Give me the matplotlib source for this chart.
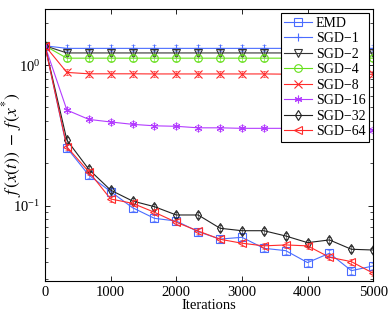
import matplotlib
matplotlib.use("Agg")
import matplotlib.pyplot as plt
from matplotlib.path import Path
import numpy as np

plt.rcParams['font.family'] = ['Liberation Serif', 'DejaVu Serif']
plt.rcParams['mathtext.fontset'] = 'stix'

iterations = [0, 333, 667, 1000, 1333, 1667, 2000, 2333, 2667, 3000, 3333, 3667, 4000, 4333, 4667, 5000]

emd = [1.371, 0.258, 0.165, 0.126, 0.0968, 0.0813, 0.0778, 0.0653, 0.0579, 0.0596, 0.0498, 0.0479, 0.0394, 0.0459, 0.0345, 0.0373]
sgd1 = [1.371, 1.315, 1.315, 1.315, 1.315, 1.315, 1.315, 1.315, 1.315, 1.315, 1.315, 1.315, 1.315, 1.315, 1.315, 1.315]
sgd2 = [1.371, 1.22, 1.22, 1.22, 1.22, 1.22, 1.22, 1.22, 1.22, 1.22, 1.22, 1.22, 1.22, 1.22, 1.22, 1.22]
sgd4 = [1.371, 1.12, 1.12, 1.12, 1.12, 1.12, 1.12, 1.12, 1.12, 1.12, 1.12, 1.12, 1.12, 1.12, 1.12, 1.12]
sgd8 = [1.371, 0.887, 0.867, 0.867, 0.867, 0.865, 0.865, 0.865, 0.865, 0.865, 0.865, 0.862, 0.862, 0.862, 0.86, 0.86]
sgd16 = [1.371, 0.479, 0.411, 0.394, 0.379, 0.370, 0.367, 0.358, 0.358, 0.355, 0.355, 0.355, 0.352, 0.350, 0.348, 0.345]
sgd32 = [1.371, 0.293, 0.1815, 0.129, 0.108, 0.0984, 0.0859, 0.0859, 0.0691, 0.0664, 0.0664, 0.0609, 0.0546, 0.0571, 0.0490, 0.0484]
sgd64 = [1.371, 0.262, 0.1745, 0.1116, 0.104, 0.0898, 0.0762, 0.0661, 0.0577, 0.0541, 0.0518, 0.0526, 0.0518, 0.0430, 0.0400, 0.0331]

labels = ['EMD', 'SGD\u22121', 'SGD\u22122', 'SGD\u22124', 'SGD\u22128', 'SGD\u221216', 'SGD\u221232', 'SGD\u221264']
series = [emd, sgd1, sgd2, sgd4, sgd8, sgd16, sgd32, sgd64]
colors = ['#4a6cff', '#4a6cff', '#333333', '#66e01a', '#ff2a2a', '#b33cff', '#222222', '#ff2a2a']
markers = ['s', '+', 'v', 'o', 'x', (6, 2, 0), 'd', '<']

# errorbar-like "I" glyph overlay style
ibar = Path([(0, -1), (0, 1), (-0.6, -1), (0.6, -1), (-0.6, 1), (0.6, 1)],
            [Path.MOVETO, Path.LINETO, Path.MOVETO, Path.LINETO, Path.MOVETO, Path.LINETO])

fig = plt.figure(figsize=(3.9, 3.15), dpi=100)
ax = fig.add_axes([0.1154, 0.107, 0.957 - 0.1154, 0.971 - 0.107])

x = np.array(iterations)
handles = []
for y, lab, c, m in zip(series, labels, colors, markers):
    h, = ax.plot(x, y, color=c, lw=0.8, marker=m, markersize=5.5,
                 markerfacecolor='none', markeredgecolor=c, markeredgewidth=0.8, label=lab)
    ax.plot(x, y, color=c, lw=0, marker=ibar, markersize=4.5, markeredgewidth=0.5,
            markerfacecolor='none', markeredgecolor=c, alpha=0.8)
    handles.append(h)

ax.set_yscale('log')
ax.set_xlim(0, 5000)
ax.set_ylim(0.029, 2.5)
ax.set_xticks([0, 1000, 2000, 3000, 4000, 5000])
ax.tick_params(axis='both', which='both', direction='in', top=True, right=True, labelsize=10.5)
ax.tick_params(which='major', length=3.5, width=0.6)
ax.tick_params(which='minor', length=2, width=0.5)
for s in ax.spines.values():
    s.set_linewidth(0.8)

ax.set_xlabel('Iterations', fontsize=10.5, labelpad=0)
ax.set_ylabel(r'$f\,(x(t))\;-\;f\,(x^{*})$', fontsize=12.5)
ax.yaxis.set_label_coords(-0.064, 0.5)

leg = ax.legend(handles=handles, loc='upper right', fontsize=10, frameon=True, fancybox=False,
                edgecolor='black', framealpha=1, borderpad=0.25, labelspacing=0.18,
                handlelength=2.0, handletextpad=0.3, borderaxespad=0.3)
leg.get_frame().set_linewidth(0.8)

fig.savefig('out.png', dpi=100)
